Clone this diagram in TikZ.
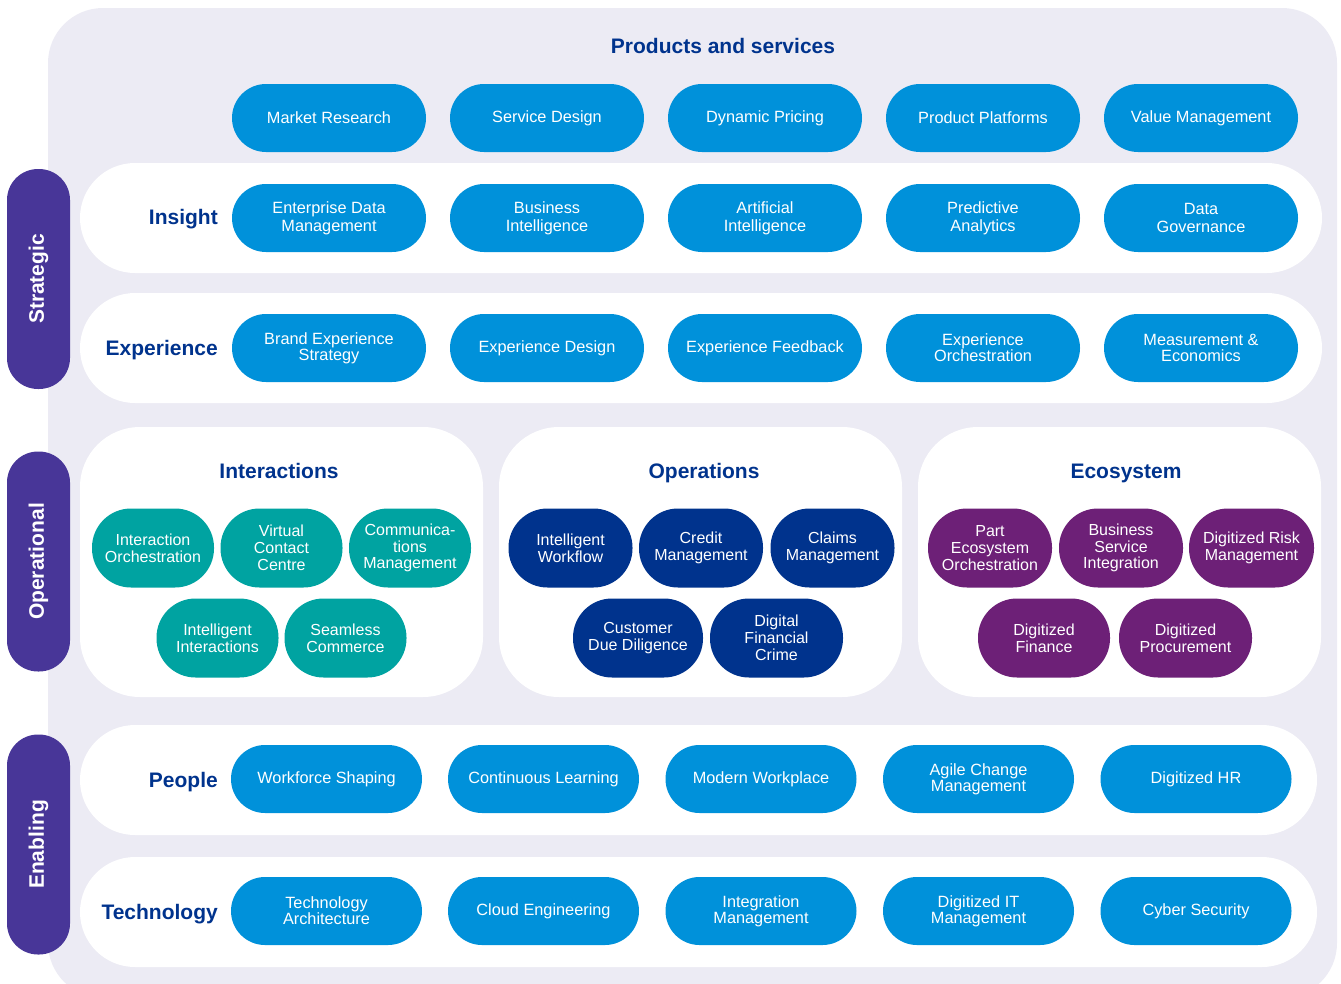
\documentclass[tikz,border=0pt]{standalone}
\usepackage{fontspec}
\setmainfont{Liberation Sans}
\definecolor{bgc}{RGB}{236,235,244}
\definecolor{kblue}{RGB}{0,145,218}
\definecolor{knavy}{RGB}{0,51,141}
\definecolor{kpurple}{RGB}{72,54,152}
\definecolor{kteal}{RGB}{0,163,161}
\definecolor{kmag}{RGB}{109,32,119}
\tikzset{
  bandbox/.style={fill=white, rounded corners=55pt, minimum height=110pt, inner sep=0pt},
  groupbox/.style={fill=white, rounded corners=60pt, minimum width=403pt, minimum height=270pt, inner sep=0pt},
  sidepill/.style={fill=kpurple, rounded corners=31pt, minimum width=220pt, minimum height=63pt, rotate=90, text=white, font=\fontsize{21}{24}\selectfont\bfseries, inner sep=0pt},
  pillb/.style={fill=kblue, rounded corners=34pt, minimum width=194pt, minimum height=68pt, text=white, align=center, inner sep=0pt, font=\fontsize{16.3}{18}\selectfont},
  tight/.style={font=\fontsize{16.3}{16}\selectfont},
  pillc/.style={pillb, minimum width=191pt},
  bub/.style={rounded corners=39pt, minimum width=124pt, minimum height=79pt, text=white, align=center, inner sep=0pt, font=\fontsize{16}{16.8}\selectfont},
  tealb/.style={bub, fill=kteal},
  navyb/.style={bub, fill=knavy},
  magb/.style={bub, fill=kmag},
  rowlab/.style={anchor=base east, text=knavy, font=\fontsize{21}{24}\selectfont\bfseries, inner sep=0pt},
  gtitle/.style={anchor=base, text=knavy, font=\fontsize{21}{24}\selectfont\bfseries, inner sep=0pt}
}
\begin{document}
\begin{tikzpicture}[x=1pt,y=-1pt]
\useasboundingbox (0,0) rectangle (1341,983);
\clip (0,0) rectangle (1341,983);
% background panel
\fill[bgc, rounded corners=55pt] (48,8) rectangle (1337,998);

% bands
\node[bandbox, minimum width=1242pt] (insband) at (701,218) {};
\node[bandbox, minimum width=1242pt] (expband) at (701,348) {};
\node[bandbox, minimum width=1237pt] (peoband) at (698.5,780) {};
\node[bandbox, minimum width=1237pt] (tecband) at (698.5,912) {};
\node[groupbox] (intbox) at (281.5,562) {};
\node[groupbox] (opsbox) at (700.5,562) {};
\node[groupbox] (ecobox) at (1119.5,562) {};

% side pills
\node[sidepill] (strat) at (38.5,279) {Strategic};
\node[sidepill] (oper) at (38.5,561.5) {Operational};
\node[sidepill] (enab) at (38.5,844.5) {Enabling};

% title
\node[gtitle] (ptitle) at (723,53.5) {Products and services};

% row labels
\node[rowlab] (linsight) at (218,224.5) {Insight};
\node[rowlab] (lexp) at (218,355.5) {Experience};
\node[rowlab] (lpeople) at (218,787.5) {People};
\node[rowlab] (ltech) at (218,919.5) {Technology};

% products row
\node[pillb] (p1) at (329,118) {Market Research};
\node[pillb] (p2) at (547,118) {Service Design};
\node[pillb] (p3) at (765,118) {Dynamic Pricing};
\node[pillb] (p4) at (983,118) {Product Platforms};
\node[pillb] (p5) at (1201,118) {Value Management};

% insight row
\node[pillb] (i1) at (329,218) {Enterprise Data\\Management};
\node[pillb] (i2) at (547,218) {Business\\Intelligence};
\node[pillb] (i3) at (765,218) {Artificial\\Intelligence};
\node[pillb] (i4) at (983,218) {Predictive\\Analytics};
\node[pillb] (i5) at (1201,218) {Data\\Governance};

% experience row
\node[pillb, tight] (e1) at (329,348) {Brand Experience\\Strategy};
\node[pillb] (e2) at (547,348) {Experience Design};
\node[pillb] (e3) at (765,348) {Experience Feedback};
\node[pillb, tight] (e4) at (983,348) {Experience\\Orchestration};
\node[pillb, tight] (e5) at (1201,348) {Measurement \&\\Economics};

% group titles
\node[gtitle] (tint) at (279,478.5) {Interactions};
\node[gtitle] (tops) at (704,478.5) {Operations};
\node[gtitle] (teco) at (1126,478.5) {Ecosystem};

% interactions
\node[tealb, minimum width=122pt] (a1) at (153,548) {Interaction\\Orchestration};
\node[tealb, minimum width=122pt] (a2) at (281.5,548) {Virtual\\Contact\\Centre};
\node[tealb, minimum width=122pt] (a3) at (410,548) {Communica-\\tions\\Management};
\node[tealb, minimum width=122pt] (a4) at (217.5,638) {Intelligent\\Interactions};
\node[tealb, minimum width=122pt] (a5) at (345.5,638) {Seamless\\Commerce};

% operations
\node[navyb] (o1) at (570.5,548) {Intelligent\\Workflow};
\node[navyb] (o2) at (701,548) {Credit\\Management};
\node[navyb] (o3) at (832.5,548) {Claims\\Management};
\node[navyb, minimum width=130pt] (o4) at (638,638) {Customer\\Due Diligence};
\node[navyb, minimum width=133pt] (o5) at (776.5,638) {Digital\\Financial\\Crime};

% ecosystem
\node[magb] (c1) at (990,548) {Part\\Ecosystem\\Orchestration};
\node[magb] (c2) at (1121,548) {Business\\Service\\Integration};
\node[magb, minimum width=125pt] (c3) at (1251.5,548) {Digitized Risk\\Management};
\node[magb, minimum width=132pt] (c4) at (1044,638) {Digitized\\Finance};
\node[magb, minimum width=133pt] (c5) at (1185.5,638) {Digitized\\Procurement};

% people row
\node[pillc] (r1) at (326.5,779) {Workforce Shaping};
\node[pillc] (r2) at (543.5,779) {Continuous Learning};
\node[pillc] (r3) at (761,779) {Modern Workplace};
\node[pillc, tight] (r4) at (978.5,779) {Agile Change\\Management};
\node[pillc] (r5) at (1196,779) {Digitized HR};

% technology row
\node[pillc, tight] (t1) at (326.5,911) {Technology\\Architecture};
\node[pillc] (t2) at (543.5,911) {Cloud Engineering};
\node[pillc, tight] (t3) at (761,911) {Integration\\Management};
\node[pillc, tight] (t4) at (978.5,911) {Digitized IT\\Management};
\node[pillc] (t5) at (1196,911) {Cyber Security};
\end{tikzpicture}
\end{document}
